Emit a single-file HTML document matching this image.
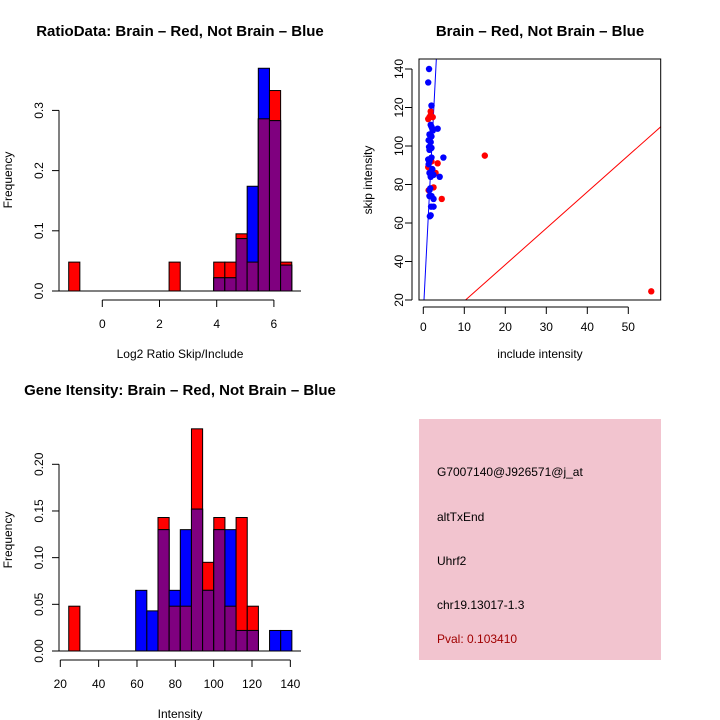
<!DOCTYPE html>
<html><head><meta charset="utf-8"><style>
body{margin:0;background:#fff;}
svg{display:block;font-family:"Liberation Sans",sans-serif;}
</style></head><body>
<svg id="s" width="720" height="720" xmlns="http://www.w3.org/2000/svg"></svg>
<script>
// ---- Ratio histogram data ----
const ratioBreakStart = -1.175;
const ratioBinWidth = 0.39;
const ratioRed  = [0.048,0,0,0,0,0,0,0,0,0.048,0,0,0,0.048,0.048,0.095,0.048,0.286,0.333,0.048];
const ratioBlue = [0,0,0,0,0,0,0,0,0,0,0,0,0,0.022,0.022,0.087,0.174,0.370,0.283,0.043];
const ratioXTicks = [0,2,4,6];
const ratioYTicks = [0.0,0.1,0.2,0.3];
// ---- Intensity histogram data ----
const intBreakStart = 24.4;
const intBinWidth = 5.82;
const intRed  = [0.048,0,0,0,0,0,0,0,0.143,0.048,0.048,0.238,0.095,0.143,0.048,0.143,0.048,0,0,0];
const intBlue = [0,0,0,0,0,0,0.065,0.043,0.130,0.065,0.130,0.152,0.065,0.130,0.130,0.022,0.022,0,0.022,0.022];
const intXTicks = [20,40,60,80,100,120,140];
const intYTicks = ["0.00","0.05","0.10","0.15","0.20"];
// ---- Scatter data ----
const blueX = [1.4,1.2,2,1.8,2,2.2,3.5,2.3,1.5,2,1.3,1.8,1.4,2,1.5,2,4.9,1.2,1.5,1.3,2.2,1.5,2.5,1.8,4,1.7,1.5,1.5,2,2.5,1.9,2.5,1.6,1.8];
const blueY = [140,133,121,111,110,109,109,108,106,105,103,102,99.5,99,98,94,94,93,92,90.5,88,86,85,84,84,78,77,74,74,72.5,68.5,68.5,63.5,64];
const redX = [1.8,1.8,1.5,2.3,1.2,15,3.5,1.5,2,3,2.5,4.5,55.6,1.3,1.2];
const redY = [118,116,115,115,114,95,91,92,92,86,78.5,72.5,24.5,77,89];
const scXTicks = [0,10,20,30,40,50];
const scYTicks = [20,40,60,80,100,120,140];
const blueLine = {x0:0.17, y0:20, slope:41.6};
const redLine = {x0:10.3, y0:20, slope:1.89};

const S = document.getElementById('s');
const NS = 'http://www.w3.org/2000/svg';
function mk(tag, attrs, name, txt){
  const e = document.createElementNS(NS, tag);
  for (const k in attrs) e.setAttribute(k, attrs[k]);
  
  
  if (txt !== undefined) e.textContent = txt;
  S.appendChild(e); return e;
}
function line(x1,y1,x2,y2,name,stroke,w){ return mk('line',{x1,y1,x2,y2,stroke:stroke||'#000','stroke-width':w||1},name); }
function text(x,y,t,name,o){ o=o||{}; return mk('text',{x,y,'font-size':o.fs||12,'text-anchor':o.anchor||'middle',fill:o.fill||'#000','font-weight':o.fw||'normal',transform:o.rot?`rotate(-90 ${x} ${y})`:''},name,t); }

function hist(opt){
  const {red,blue,start,bw,xs,ys,y0,baseL,baseR,axisY,xTicks,yTicks,pre} = opt;
  line(baseL,y0,baseR,y0,pre+'-baseline');
  for (let i=0;i<red.length;i++){
    const xa = xs(start+i*bw), xb = xs(start+(i+1)*bw);
    const r = red[i], b = blue[i], m = Math.min(r,b);
    if (r>0) mk('rect',{x:xa,y:ys(r),width:xb-xa,height:y0-ys(r),fill:'#ff0000',stroke:'#000','stroke-width':1},pre+'-bar-red-'+i);
    if (b>0) mk('rect',{x:xa,y:ys(b),width:xb-xa,height:y0-ys(b),fill:'#0000ff',stroke:'#000','stroke-width':1},pre+'-bar-blue-'+i);
    if (m>0) mk('rect',{x:xa,y:ys(m),width:xb-xa,height:y0-ys(m),fill:'#7f007f',stroke:'#000','stroke-width':1},pre+'-bar-overlap-'+i);
  }
  const yv = yTicks.map(Number);
  line(59,ys(yv[0]),59,ys(yv[yv.length-1]),pre+'-y-axis');
  yTicks.forEach((t,i)=>{ const y=ys(yv[i]); line(52,y,59,y,pre+'-y-tick'); text(43,y,String(t),pre+'-y-tick-label',{rot:true}); });
  line(xs(xTicks[0]),axisY,xs(xTicks[xTicks.length-1]),axisY,pre+'-x-axis');
  xTicks.forEach(t=>{ const x=xs(t); line(x,axisY,x,axisY+7,pre+'-x-tick'); text(x,axisY+28,String(t),pre+'-x-tick-label'); });
}

hist({red:ratioRed,blue:ratioBlue,start:ratioBreakStart,bw:ratioBinWidth,
  xs:v=>102.3+(v)*28.6, ys:v=>291-v*602, y0:291, baseL:52, baseR:301, axisY:300,
  xTicks:ratioXTicks, yTicks:ratioYTicks.map(v=>v.toFixed(1)), pre:'ratio'});
text(180,36,'RatioData: Brain – Red, Not Brain – Blue','ratio-title',{fs:15,fw:'bold'});
text(180,358,'Log2 Ratio Skip/Include','ratio-x-title');
text(12,180,'Frequency','ratio-y-title',{rot:true});

hist({red:intRed,blue:intBlue,start:intBreakStart,bw:intBinWidth,
  xs:v=>60.3+(v-20)*1.917, ys:v=>651-v*933.5, y0:651, baseL:52, baseR:301, axisY:660,
  xTicks:intXTicks, yTicks:intYTicks, pre:'intensity'});
text(180,395,'Gene Itensity: Brain – Red, Not Brain – Blue','intensity-title',{fs:15,fw:'bold'});
text(180,718,'Intensity','intensity-x-title');
text(12,540,'Frequency','intensity-y-title',{rot:true});

const L=419,R=660.7,T=59,B=300;
const sx=v=>423.3+v*4.1, sy=v=>300-(v-20)*1.925;
const clip = mk('clipPath',{id:'cp'},'scatter-clip');
const cr = document.createElementNS(NS,'rect');
cr.setAttribute('x',L);cr.setAttribute('y',T);cr.setAttribute('width',R-L);cr.setAttribute('height',B-T);
clip.appendChild(cr);
function ablineY(l,x){return l.y0+l.slope*(x-l.x0);}
mk('line',{x1:sx(-1),y1:sy(ablineY(blueLine,-1)),x2:sx(60),y2:sy(ablineY(blueLine,60)),stroke:'#0000ff','stroke-width':1,'clip-path':'url(#cp)'},'blue-fit-line');
mk('line',{x1:sx(-1),y1:sy(ablineY(redLine,-1)),x2:sx(60),y2:sy(ablineY(redLine,60)),stroke:'#ff0000','stroke-width':1,'clip-path':'url(#cp)'},'red-fit-line');
redX.forEach((x,i)=>mk('circle',{cx:sx(x),cy:sy(redY[i]),r:3.2,fill:'#ff0000'},'point-red'));
blueX.forEach((x,i)=>mk('circle',{cx:sx(x),cy:sy(blueY[i]),r:3.2,fill:'#0000ff'},'point-blue'));
mk('rect',{x:L,y:T,width:R-L,height:B-T,fill:'none',stroke:'#000','stroke-width':1},'scatter-frame');
line(sx(0),307,sx(50),307,'scatter-x-axis');
scXTicks.forEach(t=>{const x=sx(t);line(x,307,x,314,'scatter-x-tick');text(x,331,String(t),'scatter-x-tick-label');});
line(412,sy(20),412,sy(140),'scatter-y-axis');
scYTicks.forEach(t=>{const y=sy(t);line(405,y,412,y,'scatter-y-tick');text(403,y,String(t),'scatter-y-tick-label',{rot:true});});
text(540,36,'Brain – Red, Not Brain – Blue','scatter-title',{fs:15,fw:'bold'});
text(540,358,'include intensity','scatter-x-title');
text(372,180,'skip intensity','scatter-y-title',{rot:true});

mk('rect',{x:419,y:419,width:242,height:241,fill:'#f2c4cf'},'info-box');
text(437,476,'G7007140@J926571@j_at','probe-id-text',{anchor:'start'});
text(437,521,'altTxEnd','event-type-text',{anchor:'start'});
text(437,565,'Uhrf2','gene-name-text',{anchor:'start'});
text(437,609,'chr19.13017-1.3','location-text',{anchor:'start'});
text(437,643,'Pval: 0.103410','pval-text',{anchor:'start',fill:'#a00000'});
</script>
</body></html>
